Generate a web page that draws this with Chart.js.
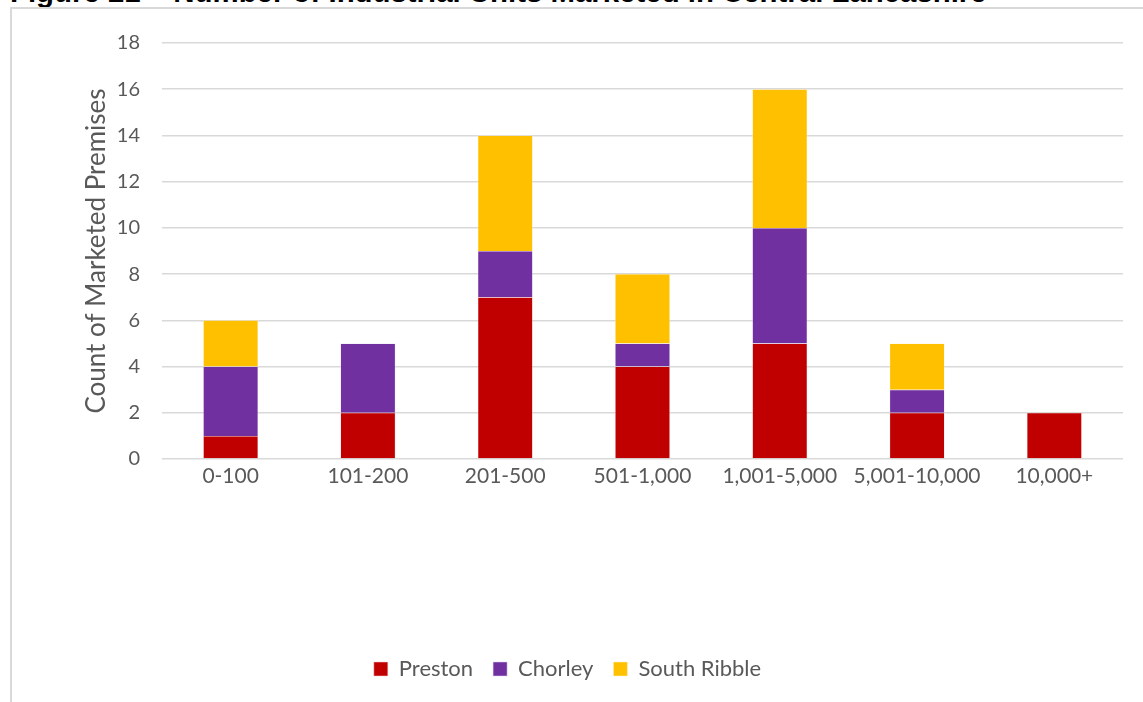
<!DOCTYPE html>
<html>
<head>
<meta charset="UTF-8">
<title>Industrial Units Marketed</title>
<style>
body {
	margin: 0;
	background-color: #ffffff;
	overflow: hidden;
}
.fig-title {
	position: absolute;
	left: 10px;
	top: -23px;
	font-family: 'Liberation Sans', Arial, sans-serif;
	font-weight: bold;
	font-size: 29.4px;
	line-height: 30px;
	color: #000000;
	white-space: nowrap;
}
.chart-box {
	position: absolute;
	left: 10px;
	top: 7px;
	width: 1150px;
	height: 710px;
	border: 2px solid #d9d9d9;
	background: #ffffff;
}
.chart-box canvas {
	position: absolute;
	left: 0;
	top: 0;
}
</style>
<script src="https://cdn.jsdelivr.net/npm/chart.js"></script>
<script>
const categories = ['0-100', '101-200', '201-500', '501-1,000', '1,001-5,000', '5,001-10,000', '10,000+'];
const preston = [1, 2, 7, 4, 5, 2, 2];
const chorley = [3, 3, 2, 1, 5, 1, 0];
const southRibble = [2, 0, 5, 3, 6, 2, 0];
const yTicks = [0, 2, 4, 6, 8, 10, 12, 14, 16, 18];

document.addEventListener("DOMContentLoaded", function() {
    var ctx = document.getElementById('unitsChart').getContext('2d');
    var fontFamily = "Lato, 'Open Sans', sans-serif";
    var textColor = '#595959';

    new Chart(ctx, {
        type: 'bar',
        data: {
            labels: categories,
            datasets: [{
                label: 'Preston',
                data: preston,
                backgroundColor: '#C00000',
                borderColor: '#f2d0d0',
                borderWidth: 0.5
            }, {
                label: 'Chorley',
                data: chorley,
                backgroundColor: '#7030A0',
                borderColor: '#e0d0ee',
                borderWidth: 0.5
            }, {
                label: 'South Ribble',
                data: southRibble,
                backgroundColor: '#FFC000',
                borderColor: '#fff0c8',
                borderWidth: 0.5
            }]
        },
        options: {
            responsive: false,
            animation: false,
            layout: { padding: { left: 0, right: 20, top: 34, bottom: 12 } },
            datasets: {
                bar: { barPercentage: 0.8, categoryPercentage: 0.5 }
            },
            plugins: {
                tooltip: { enabled: false },
                legend: {
                    position: 'bottom',
                    labels: {
                        boxWidth: 14,
                        boxHeight: 14,
                        padding: 20,
                        color: textColor,
                        font: { family: fontFamily, size: 22 }
                    }
                }
            },
            scales: {
                x: {
                    stacked: true,
                    grid: { display: false, drawTicks: false },
                    border: { display: false },
                    ticks: {
                        color: textColor,
                        padding: 5,
                        maxRotation: 0,
                        font: { family: fontFamily, size: 21 }
                    },
                    afterFit: function(scale) { scale.height = 179; }
                },
                y: {
                    stacked: true,
                    min: 0,
                    max: 18,
                    afterBuildTicks: function(scale) {
                        scale.ticks = yTicks.map(v => ({ value: v }));
                    },
                    grid: { color: '#d9d9d9', lineWidth: 1.5, drawTicks: false },
                    border: { display: false },
                    ticks: {
                        color: textColor,
                        padding: 22,
                        font: { family: fontFamily, size: 20 }
                    },
                    title: {
                        display: true,
                        text: 'Count of Marketed Premises',
                        color: textColor,
                        padding: { top: 69, bottom: 0 },
                        font: { family: fontFamily, size: 26 }
                    },
                    afterFit: function(scale) { scale.width = 150; }
                }
            }
        }
    });
});
</script>
</head>
<body>
	<div class="fig-title">Figure 21 &ndash; Number of Industrial Units Marketed in Central Lancashire</div>
	<div class="chart-box">
		<canvas id="unitsChart" width="1131" height="693"></canvas>
	</div>
</body>
</html>
